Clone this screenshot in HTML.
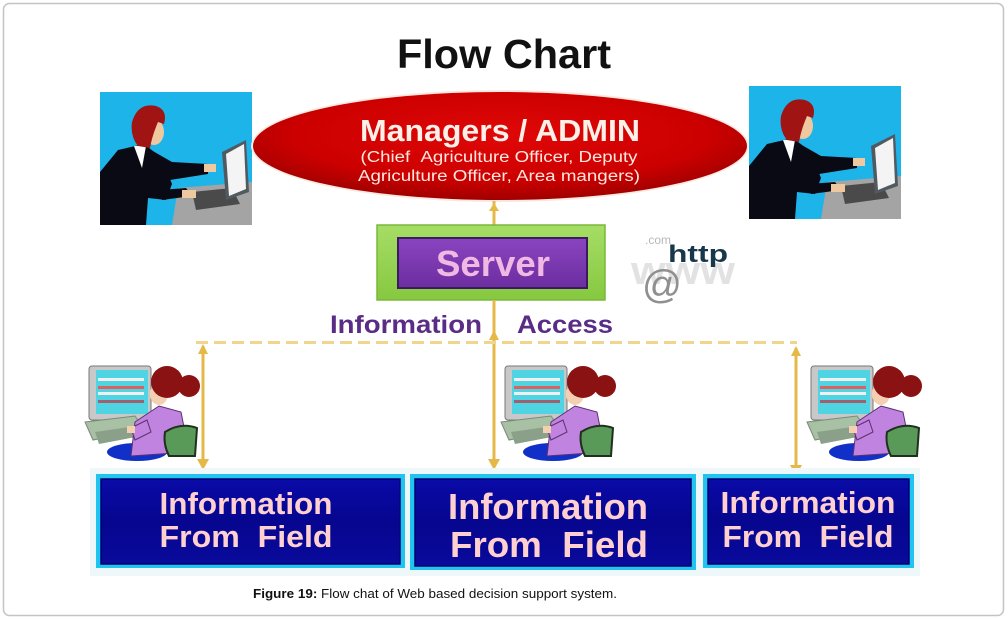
<!DOCTYPE html>
<html><head><meta charset="utf-8"><style>
html,body{margin:0;padding:0;background:#fff;}
svg{display:block;}
text{font-family:"Liberation Sans",Arial,sans-serif;}
</style></head><body>
<svg width="1008" height="619" viewBox="0 0 1008 619" xmlns="http://www.w3.org/2000/svg">
<defs>
<radialGradient id="red" cx="50%" cy="40%" r="60%">
<stop offset="0" stop-color="#e00808"/><stop offset="0.7" stop-color="#cc0000"/><stop offset="1" stop-color="#a00000"/>
</radialGradient>
<linearGradient id="grn" x1="0" y1="0" x2="0" y2="1">
<stop offset="0" stop-color="#a6dd66"/><stop offset="1" stop-color="#86c840"/>
</linearGradient>
<linearGradient id="pur" x1="0" y1="0" x2="0" y2="1">
<stop offset="0" stop-color="#8a44c0"/><stop offset="1" stop-color="#6c2ea0"/>
</linearGradient>
<linearGradient id="blu" x1="0" y1="0" x2="0" y2="1">
<stop offset="0" stop-color="#0a0aa8"/><stop offset="0.5" stop-color="#06068f"/><stop offset="1" stop-color="#0a0a9c"/>
</linearGradient>
<g id="mgr">
<rect x="0" y="0" width="152" height="133" fill="#1db4ea"/>
<polygon points="78,96 152,90 152,133 72,133" fill="#a4a4a4"/>
<polygon points="92,100 132,96 140,112 96,118" fill="#4a4a4a"/>
<polygon points="122,60 146,48 149,100 126,108" fill="#505a60"/>
<polygon points="126,62 144,52 146,97 129,104" fill="#f4f4f4"/>
<polygon points="0,80 18,58 44,52 62,66 72,92 66,108 48,106 46,133 0,133" fill="#0a0a14"/>
<polygon points="44,54 72,70 108,72 108,82 70,88 52,80" fill="#0a0a14"/>
<rect x="104" y="72" width="12" height="8" fill="#f0c8a0"/>
<polygon points="60,98 86,96 92,104 62,108" fill="#0a0a14"/>
<rect x="82" y="98" width="14" height="8" fill="#f0c8a0"/>
<polygon points="34,54 46,54 42,76" fill="#ffffff"/>
<ellipse cx="54" cy="40" rx="10" ry="13" fill="#f0c8a0"/>
<path d="M32,30 Q38,10 56,14 Q68,18 64,32 L58,30 Q52,44 50,56 L38,54 Q30,44 32,30Z" fill="#a01414"/>
</g>
<g id="wrk">
<rect x="4" y="6" width="62" height="54" rx="3" fill="#c8c8c8" stroke="#777" stroke-width="1"/>
<rect x="11" y="10" width="52" height="44" fill="#4fd4e4"/>
<rect x="13" y="18" width="46" height="3" fill="#f0f0f0"/>
<rect x="13" y="26" width="46" height="3" fill="#e06060"/>
<rect x="13" y="32" width="46" height="3" fill="#f0f0f0"/>
<rect x="13" y="40" width="46" height="3" fill="#a06070"/>
<polygon points="0,62 50,56 60,70 8,80" fill="#a8c0a4" stroke="#7a8a78" stroke-width="1"/>
<polygon points="10,72 52,66 56,76 14,84" fill="#8aa088"/>
<ellipse cx="52" cy="92" rx="30" ry="9" fill="#1030c8"/>
<polygon points="50,62 74,46 96,52 104,92 46,96" fill="#c084e0" stroke="#5a3070" stroke-width="1"/>
<polygon points="46,68 62,60 66,72 50,80" fill="#c084e0" stroke="#5a3070" stroke-width="1"/>
<rect x="42" y="66" width="8" height="7" fill="#f4d0b0"/>
<path d="M80,72 Q96,62 112,68 L110,96 L84,96 Q78,84 80,72Z" fill="#5a9a58" stroke="#203020" stroke-width="2"/>
<ellipse cx="74" cy="34" rx="9" ry="11" fill="#f4d0b0"/>
<circle cx="82" cy="22" r="16" fill="#8a1212"/>
<circle cx="104" cy="26" r="11" fill="#8a1212"/>
</g>
</defs>

<rect x="3.5" y="3.5" width="1000" height="612" rx="6" fill="#fff" stroke="#c4c4c4" stroke-width="1.5"/>

<text x="504" y="68" text-anchor="middle" font-size="41" font-weight="bold" fill="#111" textLength="214" lengthAdjust="spacingAndGlyphs">Flow Chart</text>

<use href="#mgr" x="100" y="92"/>
<use href="#mgr" x="749" y="86"/>

<ellipse cx="500" cy="146" rx="249" ry="56" fill="#fbe8e0"/>
<ellipse cx="500" cy="146" rx="247" ry="54" fill="url(#red)"/>
<text x="500" y="141" text-anchor="middle" font-size="31" font-weight="bold" fill="#fdf0e8" textLength="280" lengthAdjust="spacingAndGlyphs">Managers / ADMIN</text>
<text x="499" y="162" text-anchor="middle" font-size="15.5" fill="#fde8e0" textLength="277" lengthAdjust="spacingAndGlyphs">(Chief &#160;Agriculture Officer, Deputy</text>
<text x="499" y="181" text-anchor="middle" font-size="15.5" fill="#fde8e0" textLength="282" lengthAdjust="spacingAndGlyphs">Agriculture Officer, Area mangers)</text>

<line x1="494" y1="201" x2="494" y2="226" stroke="#e6b848" stroke-width="3"/>
<polygon points="494,203 489,211 499,211" fill="#e6b848"/>

<rect x="377" y="225" width="228" height="75" fill="url(#grn)" stroke="#78b838" stroke-width="1.5"/>
<rect x="398" y="238" width="189" height="50" fill="url(#pur)" stroke="#3c1a60" stroke-width="2"/>
<text x="493" y="276" text-anchor="middle" font-size="36" font-weight="bold" fill="#f0b8e2" textLength="114" lengthAdjust="spacingAndGlyphs">Server</text>

<g>
<text x="683" y="284" text-anchor="middle" font-size="40" font-weight="bold" fill="#e2e2e2" font-family="Liberation Serif" textLength="104" lengthAdjust="spacingAndGlyphs">www</text>
<text x="645" y="244" font-size="12" fill="#b8b8b8">.com</text>
<text x="668" y="262" font-size="24" font-weight="bold" fill="#16384a" font-family="Liberation Mono,monospace" textLength="60" lengthAdjust="spacingAndGlyphs">http</text>
<text x="642" y="298" font-size="40" fill="#909090" textLength="40" lengthAdjust="spacingAndGlyphs">@</text>
</g>

<text x="330" y="333" font-size="25" font-weight="bold" fill="#5b2c86" textLength="152" lengthAdjust="spacingAndGlyphs">Information</text>
<text x="517" y="333" font-size="25" font-weight="bold" fill="#5b2c86" textLength="96" lengthAdjust="spacingAndGlyphs">Access</text>

<line x1="494" y1="300" x2="494" y2="466" stroke="#e6b848" stroke-width="3"/>
<polygon points="494,470 488,459 500,459" fill="#e6b848"/>
<polygon points="494,330 489,340 499,340" fill="#e6b848"/>

<line x1="196" y1="342.5" x2="797" y2="342.5" stroke="#efd68c" stroke-width="3" stroke-dasharray="12 6"/>

<line x1="203" y1="346" x2="203" y2="466" stroke="#e6b848" stroke-width="3"/>
<polygon points="203,344 198,354 208,354" fill="#e6b848"/>
<polygon points="203,470 197,459 209,459" fill="#e6b848"/>

<line x1="796" y1="348" x2="796" y2="472" stroke="#e6b848" stroke-width="3"/>
<polygon points="796,346 791,356 801,356" fill="#e6b848"/>
<polygon points="796,476 790,465 802,465" fill="#e6b848"/>

<use href="#wrk" x="85" y="360"/>
<use href="#wrk" x="501" y="360"/>
<use href="#wrk" x="807" y="360"/>

<rect x="90" y="468" width="830" height="108" fill="#eef8fb"/>
<rect x="96" y="474" width="309" height="94" fill="#20c4ee"/>
<rect x="101" y="479" width="299" height="85" fill="url(#blu)" stroke="#000070" stroke-width="1.5"/>
<rect x="410" y="474" width="286" height="96" fill="#20c4ee"/>
<rect x="415" y="479" width="276" height="87" fill="url(#blu)" stroke="#000070" stroke-width="1.5"/>
<rect x="703" y="474" width="211" height="94" fill="#20c4ee"/>
<rect x="708" y="479" width="201" height="85" fill="url(#blu)" stroke="#000070" stroke-width="1.5"/>

<g fill="#ffd0d0" font-weight="bold" text-anchor="middle">
<text x="246" y="514" font-size="31" textLength="173" lengthAdjust="spacingAndGlyphs">Information</text>
<text x="246" y="547" font-size="31" textLength="173" lengthAdjust="spacingAndGlyphs">From &#160;Field</text>
<text x="548" y="519" font-size="36" textLength="200" lengthAdjust="spacingAndGlyphs">Information</text>
<text x="549" y="557" font-size="36" textLength="198" lengthAdjust="spacingAndGlyphs">From &#160;Field</text>
<text x="808" y="513" font-size="31" textLength="175" lengthAdjust="spacingAndGlyphs">Information</text>
<text x="808" y="547" font-size="31" textLength="171" lengthAdjust="spacingAndGlyphs">From &#160;Field</text>
</g>

<text x="253" y="598" font-size="13" fill="#111" textLength="364" lengthAdjust="spacingAndGlyphs"><tspan font-weight="bold">Figure 19:</tspan> Flow chat of Web based decision support system.</text>
</svg>
</body></html>
